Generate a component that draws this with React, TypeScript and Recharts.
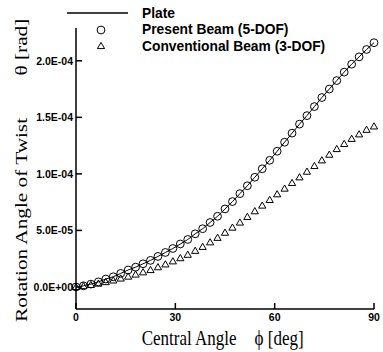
import React from 'react';
import { ComposedChart, Line, XAxis, YAxis, Legend } from 'recharts';

// Central angle phi [deg]
const angles = [0, 2.25, 4.5, 6.75, 9, 11.25, 13.5, 15.75, 18, 20.25, 22.5, 24.75, 27, 29.25, 31.5, 33.75, 36, 38.25, 40.5, 42.75, 45, 47.25, 49.5, 51.75, 54, 56.25, 58.5, 60.75, 63, 65.25, 67.5, 69.75, 72, 74.25, 76.5, 78.75, 81, 83.25, 85.5, 87.75, 90];
// Rotation angle of twist theta, in units of 1e-6 rad
const plate = [0, 1, 2.5, 4.5, 7, 9, 12, 15, 17.5, 20.5, 23.5, 27, 30.5, 34, 38, 42, 47, 51.5, 57, 62.5, 69, 75.5, 82.5, 89.5, 97, 104.5, 112, 120, 128, 136, 144, 151.5, 159.5, 167.5, 175, 182.5, 190, 197, 203.5, 210, 216];
const present = [0, 1, 2.5, 4.5, 7, 9, 12, 15, 17.5, 20.5, 23.5, 27, 30.5, 34, 38, 42, 47, 51.5, 57, 62.5, 69, 75.5, 82.5, 89.5, 97, 104.5, 112, 120, 128, 136, 144, 151.5, 159.5, 167.5, 175, 182.5, 190, 197, 203.5, 210, 216];
const conventional = [0, 0.8, 1.8, 3, 4.3, 5.8, 7.5, 9.2, 11, 13, 15, 17.5, 20, 22.7, 25.5, 28.5, 32, 35.5, 39.5, 43.5, 48, 52.5, 57, 62, 67, 72, 77, 82, 87, 92, 97, 102, 107, 112, 117, 122, 126.5, 131, 135, 139, 142];

const xTicks = [0, 30, 60, 90];
const yTicks = [0, 50, 100, 150, 200];
const yTickLabels = ['0.0E+00', '5.0E-05', '1.0E-04', '1.5E-04', '2.0E-04'];
const seriesNames = ['Plate', 'Present Beam (5-DOF)', 'Conventional Beam (3-DOF)'];
const xTitle = ['Central Angle', '\u03D5 [deg]'];
const yTitle = ['Rotation Angle of Twist', '\u03B8 [rad]'];

const data = angles.map((a, i) => ({
  angle: a,
  plate: plate[i],
  present: present[i],
  conventional: conventional[i],
}));

const SANS = '"Liberation Sans", Arial, sans-serif';
const SERIF = '"Liberation Serif", "Times New Roman", serif';

const CircleDot = (p: any) => (
  <circle key={`c-${p.index}`} cx={p.cx} cy={p.cy} r={3.9} fill="none" stroke="#000" strokeWidth={1} />
);

const triPoints = (cx: number, cy: number) =>
  `${cx},${cy - 3.6} ${cx - 3.6},${cy + 2.6} ${cx + 3.6},${cy + 2.6}`;

const TriDot = (p: any) => (
  <polygon key={`t-${p.index}`} points={triPoints(p.cx, p.cy)} fill="none" stroke="#000" strokeWidth={1} />
);

const LegendBox = () => (
  <svg width={383} height={56} style={{ display: 'block', overflow: 'visible' }}>
    <line x1={67} x2={128} y1={13} y2={13} stroke="#000" strokeWidth={1.3} />
    <circle cx={101} cy={30} r={3.9} fill="none" stroke="#000" strokeWidth={1} />
    <polygon points={triPoints(101, 46)} fill="none" stroke="#000" strokeWidth={1} />
    {seriesNames.map((n, i) => (
      <text key={n} x={142} y={13 + i * 16.5} dy="0.36em" fontFamily={SANS} fontWeight="bold" fontSize={13.8} fill="#000">
        {n}
      </text>
    ))}
  </svg>
);

const renderXTitle = () => (
  <text transform="translate(141.7,345) scale(1,1.25)" fontFamily={SERIF} fontSize={17} fill="#000">
    <tspan>{xTitle[0]}</tspan>
    <tspan dx={18}>{xTitle[1]}</tspan>
  </text>
);

const renderYTitle = () => (
  <text transform="translate(27,322) rotate(-90) scale(1.25,1)" fontFamily={SERIF} fontSize={17} fill="#000">
    <tspan>{yTitle[0]}</tspan>
    <tspan dx={34}>{yTitle[1]}</tspan>
  </text>
);

const tickStyle = { fontSize: 10.5, fontWeight: 'bold', fill: '#000', fontFamily: SANS };

export default function App() {
  return (
    <div style={{ position: 'absolute', left: 0, top: 0 }}>
      <ComposedChart width={383} height={352} data={data} margin={{ top: 28, right: 9, bottom: 13, left: 16 }}>
        <XAxis
          type="number"
          dataKey="angle"
          domain={[0, 90]}
          ticks={xTicks}
          height={30}
          tickSize={-6}
          tickMargin={11}
          axisLine={{ stroke: '#000', strokeWidth: 1.5 }}
          tickLine={{ stroke: '#000', strokeWidth: 1.5 }}
          tick={tickStyle}
          label={renderXTitle}
        />
        <YAxis
          type="number"
          domain={[-19.5, 229]}
          allowDataOverflow
          ticks={yTicks}
          width={60}
          tickSize={-6}
          tickMargin={9}
          axisLine={{ stroke: '#000', strokeWidth: 1.5 }}
          tickLine={{ stroke: '#000', strokeWidth: 1.5 }}
          tick={tickStyle}
          tickFormatter={(v: number) => yTickLabels[yTicks.indexOf(v)]}
          label={renderYTitle}
        />
        <Legend
          layout="vertical"
          align="center"
          verticalAlign="middle"
          wrapperStyle={{ position: 'absolute', left: 0, top: 0, width: 383, height: 56 }}
          content={() => <LegendBox />}
        />
        <Line type="monotone" dataKey="plate" name={seriesNames[0]} stroke="#000" strokeWidth={1} dot={false} isAnimationActive={false} />
        <Line type="monotone" dataKey="present" name={seriesNames[1]} stroke="none" dot={CircleDot} activeDot={false} isAnimationActive={false} />
        <Line type="monotone" dataKey="conventional" name={seriesNames[2]} stroke="none" dot={TriDot} activeDot={false} isAnimationActive={false} />
      </ComposedChart>
    </div>
  );
}
